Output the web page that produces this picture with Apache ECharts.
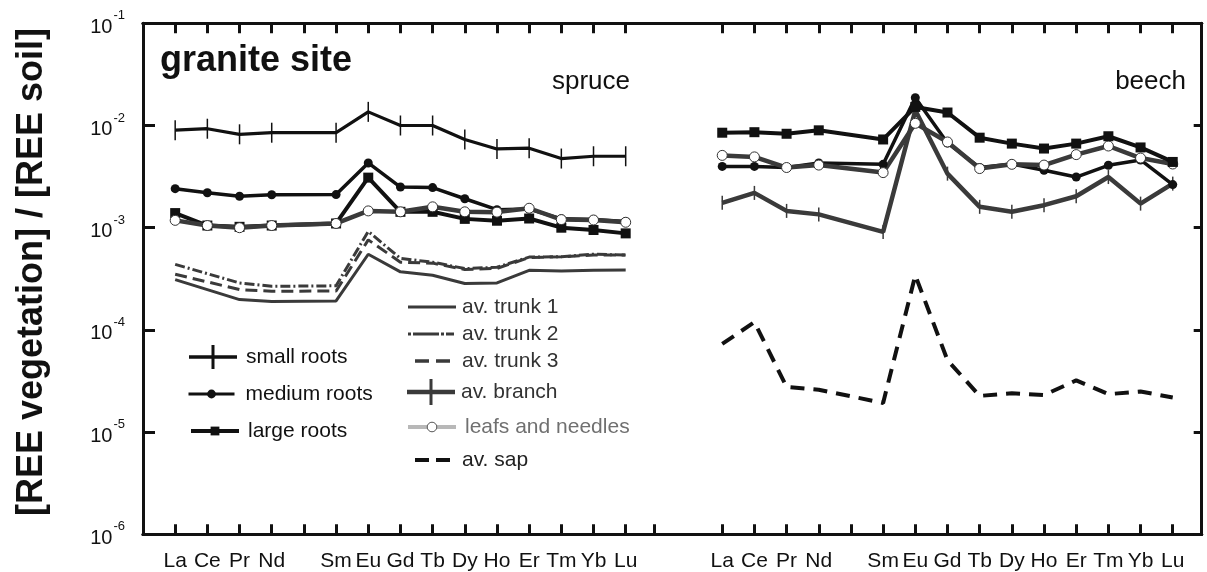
<!DOCTYPE html>
<html>
<head>
<meta charset="utf-8">
<title>granite site – REE vegetation / soil</title>
<script src="https://cdn.jsdelivr.net/npm/echarts@6/dist/echarts.min.js"></script>
<style>
  html, body { margin: 0; padding: 0; background: #fff; }
  #chart { width: 1207px; height: 572px; }
</style>
</head>
<body>
<div id="chart"></div>
<script>
// Rare earth elements (Pm has no data but keeps its slot on the axis)
const ELEMENTS = ['La', 'Ce', 'Pr', 'Nd', 'Sm', 'Eu', 'Gd', 'Tb', 'Dy', 'Ho', 'Er', 'Tm', 'Yb', 'Lu'];
const ATOMIC_NUMBERS = [57, 58, 59, 60, 62, 63, 64, 65, 66, 67, 68, 69, 70, 71];

// Y tick values (decades)
const Y_TICKS = [1e-6, 1e-5, 1e-4, 1e-3, 1e-2, 1e-1];

// spruce: [REE vegetation] / [REE soil]
const spruceSmallRoots  = [9.0e-3, 9.3e-3, 8.2e-3, 8.5e-3, 8.5e-3, 1.36e-2, 1.0e-2, 1.0e-2, 7.3e-3, 5.9e-3, 6.0e-3, 4.75e-3, 5.0e-3, 5.0e-3];
const spruceMediumRoots = [2.41e-3, 2.2e-3, 2.03e-3, 2.1e-3, 2.11e-3, 4.3e-3, 2.5e-3, 2.47e-3, 1.92e-3, 1.5e-3, 1.52e-3, 1.22e-3, 1.2e-3, 1.15e-3];
const spruceLargeRoots  = [1.39e-3, 1.05e-3, 1.02e-3, 1.05e-3, 1.1e-3, 3.09e-3, 1.43e-3, 1.43e-3, 1.22e-3, 1.17e-3, 1.23e-3, 1.0e-3, 0.95e-3, 0.88e-3];
const spruceLeaves      = [1.18e-3, 1.05e-3, 1.0e-3, 1.05e-3, 1.1e-3, 1.46e-3, 1.43e-3, 1.6e-3, 1.43e-3, 1.42e-3, 1.55e-3, 1.2e-3, 1.19e-3, 1.13e-3];
const spruceTrunk1      = [3.1e-4, 2.48e-4, 1.98e-4, 1.9e-4, 1.92e-4, 5.5e-4, 3.7e-4, 3.42e-4, 2.84e-4, 2.88e-4, 3.83e-4, 3.76e-4, 3.83e-4, 3.85e-4];
const spruceTrunk2      = [4.38e-4, 3.55e-4, 2.88e-4, 2.67e-4, 2.7e-4, 9.2e-4, 5.0e-4, 4.6e-4, 3.98e-4, 4.1e-4, 5.16e-4, 5.2e-4, 5.5e-4, 5.4e-4];
const spruceTrunk3      = [3.5e-4, 2.95e-4, 2.48e-4, 2.39e-4, 2.4e-4, 7.6e-4, 4.6e-4, 4.5e-4, 3.9e-4, 4.0e-4, 5.1e-4, 5.2e-4, 5.4e-4, 5.4e-4];

// beech: [REE vegetation] / [REE soil]
const beechLargeRoots  = [8.5e-3, 8.6e-3, 8.3e-3, 8.97e-3, 7.3e-3, 1.52e-2, 1.34e-2, 7.6e-3, 6.65e-3, 5.95e-3, 6.65e-3, 7.85e-3, 6.1e-3, 4.4e-3];
const beechMediumRoots = [3.98e-3, 3.98e-3, 3.88e-3, 4.3e-3, 4.17e-3, 1.87e-2, 6.75e-3, 3.88e-3, 4.2e-3, 3.65e-3, 3.13e-3, 4.08e-3, 4.6e-3, 2.64e-3];
const beechLeaves      = [5.1e-3, 4.93e-3, 3.88e-3, 4.1e-3, 3.46e-3, 1.05e-2, 6.9e-3, 3.79e-3, 4.17e-3, 4.1e-3, 5.19e-3, 6.3e-3, 4.8e-3, 4.2e-3];
const beechBranch      = [1.75e-3, 2.19e-3, 1.46e-3, 1.35e-3, 9.1e-4, 1.41e-2, 3.38e-3, 1.6e-3, 1.43e-3, 1.66e-3, 2.03e-3, 3.13e-3, 1.72e-3, 2.7e-3];
const beechSap         = [7.3e-5, 1.19e-4, 2.77e-5, 2.6e-5, 1.93e-5, 3.42e-4, 5.05e-5, 2.26e-5, 2.4e-5, 2.3e-5, 3.21e-5, 2.35e-5, 2.5e-5, 2.18e-5];

const FONT = "'Liberation Sans', Arial, Helvetica, sans-serif";
const INK = '#111111';
const GREY = '#3a3a3a';

// every element slot from La to Lu, Pm included
const TICK_Z = [];
for (let z = ATOMIC_NUMBERS[0]; z <= ATOMIC_NUMBERS[ATOMIC_NUMBERS.length - 1]; z++) TICK_Z.push(z);

const pairs = vals => ATOMIC_NUMBERS.map((z, i) => [z, vals[i]]);
const elementName = v => {
  const i = ATOMIC_NUMBERS.indexOf(Math.round(v));
  return i < 0 ? '' : ELEMENTS[i];
};

const frameLine = { show: true, onZero: false, lineStyle: { color: INK, width: 3 } };

function xAxisFor(range, position, withLabels, extraTicks) {
  return {
    type: 'value',
    min: range[0], max: range[1],
    position: position,
    axisLine: frameLine,
    splitLine: { show: false },
    axisTick: {
      show: true, inside: true, length: 10,
      customValues: TICK_Z.concat(extraTicks || []),
      lineStyle: { color: INK, width: 3 }
    },
    axisLabel: withLabels ? {
      show: true,
      customValues: ATOMIC_NUMBERS,
      formatter: elementName,
      margin: 16,
      color: INK,
      fontSize: 21,
      fontFamily: FONT
    } : { show: false }
  };
}

// spruce and beech share one frame; each gets its own x scale
const SPRUCE_RANGE = [56, 88.9];
const BEECH_RANGE = [39, 71.9];

function yAxisFor(position, tickLen, withLabels) {
  return {
    type: 'log', logBase: 10,
    min: Y_TICKS[0], max: Y_TICKS[Y_TICKS.length - 1],
    position: position,
    axisLine: frameLine,
    splitLine: { show: false },
    minorTick: { show: false },
    axisTick: { show: true, inside: true, length: tickLen, lineStyle: { color: INK, width: 3 } },
    axisLabel: withLabels ? {
      show: true,
      margin: 18,
      formatter: v => '{b|10}{s|' + Math.round(Math.log10(v)) + '}',
      rich: {
        b: { fontSize: 20, fontFamily: FONT, color: INK, padding: [8, 0, 0, 0] },
        s: { fontSize: 13, fontFamily: FONT, color: INK, verticalAlign: 'top', padding: [0, 0, 0, 1] }
      }
    } : { show: false }
  };
}

function line(name, xIdx, vals, opts) {
  return Object.assign({
    name: name,
    type: 'line',
    xAxisIndex: xIdx,
    yAxisIndex: 0,
    data: pairs(vals),
    showSymbol: true,
    symbol: 'none',
    animation: false,
    emphasis: { disabled: true }
  }, opts);
}

const series = [
  // spruce trunk lines
  line('av. trunk 1', 0, spruceTrunk1, {
    itemStyle: { color: GREY }, lineStyle: { color: GREY, width: 3 }
  }),
  line('av. trunk 2', 0, spruceTrunk2, {
    itemStyle: { color: GREY }, lineStyle: { color: GREY, width: 3, type: [10, 3, 2, 3] }
  }),
  line('av. trunk 3', 0, spruceTrunk3, {
    itemStyle: { color: GREY }, lineStyle: { color: GREY, width: 3, type: [12, 6] }
  }),
  // beech branch and sap
  line('av. branch', 1, beechBranch, {
    symbol: 'rect', symbolSize: [1.5, 14],
    itemStyle: { color: GREY }, lineStyle: { color: GREY, width: 4.5 }
  }),
  line('av. sap', 1, beechSap, {
    itemStyle: { color: INK }, lineStyle: { color: INK, width: 4, type: [14, 9] }
  }),
  // roots and leaves, spruce
  line('medium roots', 0, spruceMediumRoots, {
    symbol: 'circle', symbolSize: 9,
    itemStyle: { color: INK }, lineStyle: { color: INK, width: 3.5 }
  }),
  line('large roots', 0, spruceLargeRoots, {
    symbol: 'rect', symbolSize: 10,
    itemStyle: { color: INK }, lineStyle: { color: INK, width: 4 }
  }),
  line('leafs and needles', 0, spruceLeaves, {
    symbol: 'circle', symbolSize: 10,
    itemStyle: { color: '#ffffff', borderColor: '#333333', borderWidth: 1 },
    lineStyle: { color: GREY, width: 4.5 }
  }),
  line('small roots', 0, spruceSmallRoots, {
    symbol: 'rect', symbolSize: [1.5, 20],
    itemStyle: { color: INK }, lineStyle: { color: INK, width: 3.2 }
  }),
  // roots and leaves, beech
  line('medium roots', 1, beechMediumRoots, {
    symbol: 'circle', symbolSize: 9,
    itemStyle: { color: INK }, lineStyle: { color: INK, width: 3.5 }
  }),
  line('leafs and needles', 1, beechLeaves, {
    symbol: 'circle', symbolSize: 10,
    itemStyle: { color: '#ffffff', borderColor: '#333333', borderWidth: 1 },
    lineStyle: { color: GREY, width: 4.5 }
  }),
  line('large roots', 1, beechLargeRoots, {
    symbol: 'rect', symbolSize: 10,
    itemStyle: { color: INK }, lineStyle: { color: INK, width: 4 }
  })
];

// one legend per row so each key sits where it belongs
function legendRow(item, left, top, w, h, textPad, textColor) {
  return {
    show: true,
    data: [item],
    left: left, top: top,
    orient: 'vertical',
    padding: 0,
    itemWidth: w, itemHeight: h,
    selectedMode: false,
    textStyle: { fontSize: 21, fontFamily: FONT, color: textColor, padding: [0, 0, 0, textPad] }
  };
}

const legends = [
  legendRow({ name: 'small roots', icon: 'path://M0,10.25h48v3.5h-48z M22.5,0h3v24h-3z' }, 189, 345, 48, 24, 4, INK),
  legendRow({ name: 'medium roots', lineStyle: { width: 3 } }, 187, 383.5, 46, 11, 6, INK),
  legendRow({ name: 'large roots', lineStyle: { width: 4 } }, 189, 420.5, 48, 11, 4, INK),
  legendRow({ name: 'av. trunk 1', icon: 'path://M0,0h48v3h-48z' }, 408, 296.5, 48, 3, 1, '#333333'),
  legendRow({ name: 'av. trunk 2', icon: 'path://M0,0h3v3h-3z M5,0h26v3h-26z M33,0h3v3h-3z M38,0h8v3h-8z' }, 408, 323.5, 46, 3, 3, '#333333'),
  legendRow({ name: 'av. trunk 3', icon: 'path://M0,0h14v3.5h-14z M21,0h14v3.5h-14z' }, 415, 350.5, 35, 3.5, 7, '#333333'),
  legendRow({ name: 'av. branch', icon: 'path://M0,10.75h48v4.5h-48z M22.5,0h3v26h-3z' }, 407, 379, 48, 26, 1, '#333333'),
  legendRow({
    name: 'leafs and needles',
    itemStyle: { color: '#ffffff', borderColor: '#555555', borderWidth: 1 },
    lineStyle: { color: '#b8b8b8', width: 4 }
  }, 406, 416.5, 48, 12, 4, '#707070'),
  legendRow({ name: 'av. sap', icon: 'path://M0,0h14v4h-14z M21,0h14v4h-14z' }, 415, 449.5, 35, 4, 7, '#222222')
];

const option = {
  animation: false,
  backgroundColor: '#ffffff',
  grid: { left: 143, right: 5.3, top: 23.3, bottom: 37.7, containLabel: false },
  xAxis: [
    xAxisFor(SPRUCE_RANGE, 'bottom', true, [71.9]),
    xAxisFor(BEECH_RANGE, 'bottom', true),
    xAxisFor(SPRUCE_RANGE, 'top', false),
    xAxisFor(BEECH_RANGE, 'top', false)
  ],
  yAxis: [
    yAxisFor('left', 12, true),
    yAxisFor('right', 8, false)
  ],
  legend: legends,
  series: series,
  graphic: [
    {
      type: 'text', x: 32, y: 272, rotation: Math.PI / 2,
      style: {
        text: '[REE vegetation] / [REE soil]',
        font: 'bold 36px ' + FONT, fill: INK,
        textAlign: 'center', textVerticalAlign: 'middle'
      }
    },
    {
      type: 'text', x: 160, y: 61,
      style: { text: 'granite site', font: 'bold 36px ' + FONT, fill: INK, textAlign: 'left', textVerticalAlign: 'middle' }
    },
    {
      type: 'text', x: 552, y: 82,
      style: { text: 'spruce', font: '26px ' + FONT, fill: INK, textAlign: 'left', textVerticalAlign: 'middle' }
    },
    {
      type: 'text', x: 1186, y: 82,
      style: { text: 'beech', font: '26px ' + FONT, fill: INK, textAlign: 'right', textVerticalAlign: 'middle' }
    }
  ]
};

const chart = echarts.init(document.getElementById('chart'), null, { renderer: 'canvas' });
chart.setOption(option);
</script>
</body>
</html>
